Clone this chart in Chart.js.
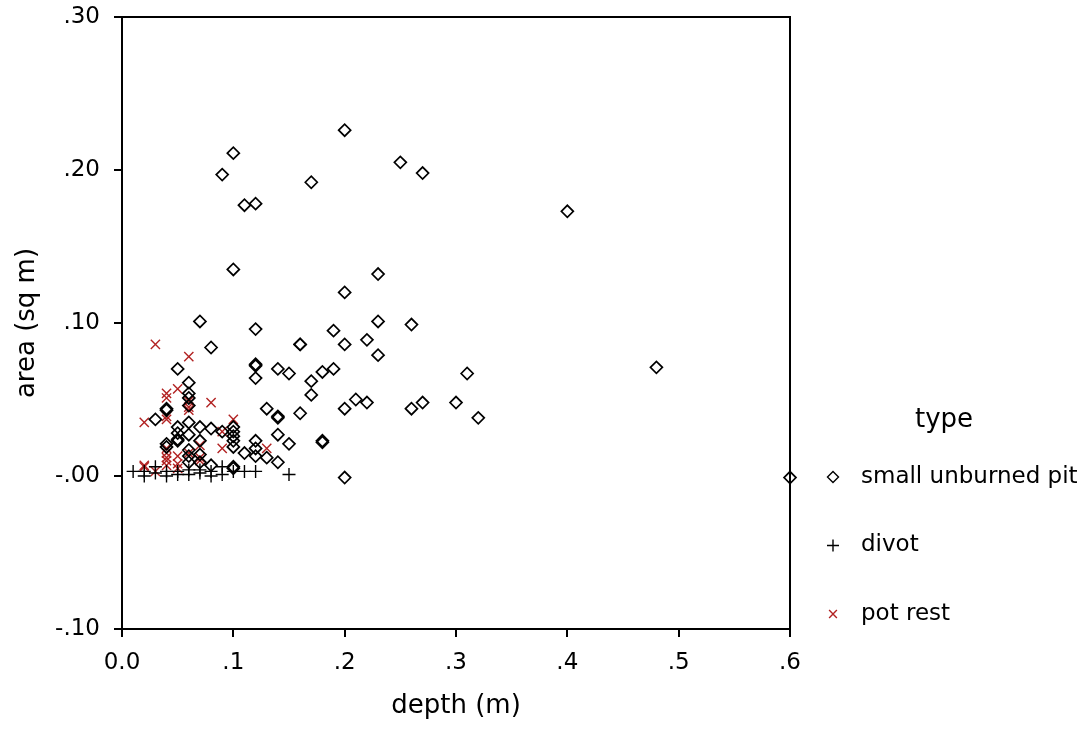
<!DOCTYPE html>
<html>
<head>
<meta charset="utf-8">
<script src="https://cdn.jsdelivr.net/npm/chart.js@4.4.1/dist/chart.umd.min.js"></script>
<style>
  html,body{margin:0;padding:0;background:#fff;}
  #wrap{width:1086px;height:731px;}
</style>
</head>
<body>
<div id="wrap"><canvas id="scatter" width="1086" height="731"></canvas></div>
<script>
// ---- data ----
const typeNames = ['small unburned pit', 'divot', 'pot rest'];

const pitDepth = [0.20,0.10,0.09,0.11,0.12,0.17,0.25,0.27,0.40,0.10,0.23,0.20,0.07,0.12,0.08,0.19,0.23,0.26,0.16,0.16,
  0.20,0.22,0.23,0.12,0.12,0.12,0.14,0.15,0.17,0.18,0.19,0.31,0.48,0.17,0.13,0.14,0.14,0.16,0.20,0.21,
  0.22,0.26,0.27,0.30,0.32,0.14,0.15,0.18,0.18,0.12,0.12,0.12,0.11,0.14,0.20,0.60,0.05,0.06,0.06,0.06,
  0.06,0.04,0.04,0.03,0.06,0.05,0.07,0.08,0.09,0.10,0.10,0.10,0.10,0.05,0.05,0.05,0.06,0.07,0.04,0.04,
  0.06,0.07,0.10,0.06,0.06,0.07,0.08,0.10,0.10,0.13];
const pitArea = [0.226,0.211,0.197,0.177,0.178,0.192,0.205,0.198,0.173,0.135,0.132,0.120,0.101,0.096,0.084,0.095,0.101,0.099,0.086,0.086,
  0.086,0.089,0.079,0.072,0.073,0.064,0.070,0.067,0.062,0.068,0.070,0.067,0.071,0.053,0.044,0.038,0.039,0.041,0.044,0.050,
  0.048,0.044,0.048,0.048,0.038,0.027,0.021,0.022,0.023,0.023,0.018,0.013,0.015,0.009,-0.001,-0.001,0.070,0.061,0.054,0.051,
  0.046,0.044,0.043,0.037,0.035,0.032,0.032,0.031,0.029,0.032,0.029,0.026,0.023,0.028,0.024,0.023,0.027,0.023,0.021,0.019,
  0.017,0.014,0.019,0.013,0.009,0.009,0.007,0.006,0.005,0.012];

const divotDepth = [0.01,0.02,0.02,0.03,0.03,0.04,0.04,0.05,0.05,0.06,0.06,0.07,0.07,0.08,0.08,0.09,0.09,0.10,0.11,0.12,0.15];
const divotArea  = [0.003,0.003,0.000,0.006,0.002,0.003,0.000,0.003,0.001,0.004,0.001,0.002,0.004,0.003,0.000,0.006,0.001,0.003,0.003,0.003,0.001];

const potDepth = [0.03,0.06,0.05,0.04,0.04,0.06,0.06,0.06,0.08,0.04,0.04,0.02,0.10,0.09,0.07,0.09,0.13,0.04,0.04,0.04,
  0.04,0.05,0.06,0.07,0.07,0.02,0.02,0.03,0.05,0.05,0.04];
const potArea  = [0.086,0.078,0.057,0.054,0.051,0.049,0.045,0.043,0.048,0.039,0.037,0.035,0.037,0.029,0.020,0.018,0.018,0.018,0.015,0.012,
  0.007,0.013,0.015,0.012,0.010,0.007,0.006,0.003,0.005,0.008,0.010];

const xTickValues = [0, 0.1, 0.2, 0.3, 0.4, 0.5, 0.6];
const xTickLabels = ['0.0', '.1', '.2', '.3', '.4', '.5', '.6'];
const yTickValues = [-0.1, 0, 0.1, 0.2, 0.3];
const yTickLabels = ['-.10', '-.00', '.10', '.20', '.30'];

function pairs(xs, ys){ return xs.map((x, i) => ({x, y: ys[i]})); }

Chart.defaults.font.family = "'DejaVu Sans', sans-serif";
Chart.defaults.color = '#000';

// top + right edge of the plot box
const frame = {
  id: 'frame',
  afterDatasetsDraw(chart){
    const {ctx, chartArea: a} = chart;
    ctx.save();
    ctx.strokeStyle = '#000';
    ctx.lineWidth = 2;
    ctx.beginPath();
    ctx.moveTo(a.left, a.top); ctx.lineTo(a.right, a.top); ctx.lineTo(a.right, a.bottom);
    ctx.stroke();
    ctx.restore();
  }
};

// legend drawn at the right, like the SPSS one
const sideLegend = {
  id: 'sideLegend',
  afterDraw(chart){
    const ctx = chart.ctx;
    ctx.save();
    ctx.fillStyle = '#000';
    ctx.textBaseline = 'middle';
    ctx.textAlign = 'center';
    ctx.font = "26px 'DejaVu Sans'";
    ctx.fillText('type', 944, 420);
    ctx.textAlign = 'left';
    ctx.font = "23px 'DejaVu Sans'";
    const sizes = [5.5, 6, 5.5];
    chart.data.datasets.forEach((ds, i) => {
      const y = 477 + i * 68.5;
      ctx.strokeStyle = ds.borderColor;
      ctx.fillStyle = ds.backgroundColor;
      ctx.lineWidth = 1.4;
      Chart.helpers.drawPoint(ctx, {pointStyle: ds.pointStyle, radius: sizes[i], rotation: 0, borderWidth: 1.4}, 833, y);
      ctx.fillStyle = '#000';
      ctx.fillText(ds.label, 861, y);
    });
    ctx.restore();
  }
};

new Chart(document.getElementById('scatter'), {
  type: 'scatter',
  data: {
    datasets: [
      {label: typeNames[0], data: pairs(pitDepth, pitArea), pointStyle: 'rectRot', radius: 6,
       borderColor: '#000', backgroundColor: 'rgba(0,0,0,0)', borderWidth: 1.7, clip: false},
      {label: typeNames[1], data: pairs(divotDepth, divotArea), pointStyle: 'cross', radius: 6.5,
       borderColor: '#000', backgroundColor: '#000', borderWidth: 1.4, clip: false},
      {label: typeNames[2], data: pairs(potDepth, potArea), pointStyle: 'crossRot', radius: 6.5,
       borderColor: '#b22222', backgroundColor: '#b22222', borderWidth: 1.4, clip: false}
    ]
  },
  options: {
    responsive: false,
    animation: false,
    devicePixelRatio: 1,
    layout: {padding: {top: 17, left: 0, right: 296, bottom: 0}},
    plugins: {legend: {display: false}, tooltip: {enabled: false}},
    scales: {
      x: {
        type: 'linear', min: 0, max: 0.6,
        afterBuildTicks: s => { s.ticks = xTickValues.map(v => ({value: v})); },
        afterFit: s => { s.height = 102; s.paddingLeft = 0; s.paddingRight = 0; },
        ticks: {font: {size: 23}, padding: 12, maxRotation: 0, autoSkip: false,
                callback: (v, i) => xTickLabels[i]},
        grid: {display: true, drawOnChartArea: false, drawTicks: true, tickLength: 8, color: '#000', lineWidth: 2},
        border: {display: true, color: '#000', width: 2},
        title: {display: true, text: 'depth (m)', font: {size: 26}, padding: {top: 0, bottom: 9}}
      },
      y: {
        type: 'linear', min: -0.1, max: 0.3,
        afterBuildTicks: s => { s.ticks = yTickValues.map(v => ({value: v})); },
        afterFit: s => { s.width = 122; s.paddingTop = 0; s.paddingBottom = 0; },
        ticks: {font: {size: 23}, padding: 14, autoSkip: false,
                callback: (v, i) => yTickLabels[i]},
        grid: {display: true, drawOnChartArea: false, drawTicks: true, tickLength: 8, color: '#000', lineWidth: 2},
        border: {display: true, color: '#000', width: 2},
        title: {display: true, text: 'area (sq m)', font: {size: 26}, padding: {top: 12, bottom: 0}}
      }
    }
  },
  plugins: [frame, sideLegend]
});
</script>
</body>
</html>
